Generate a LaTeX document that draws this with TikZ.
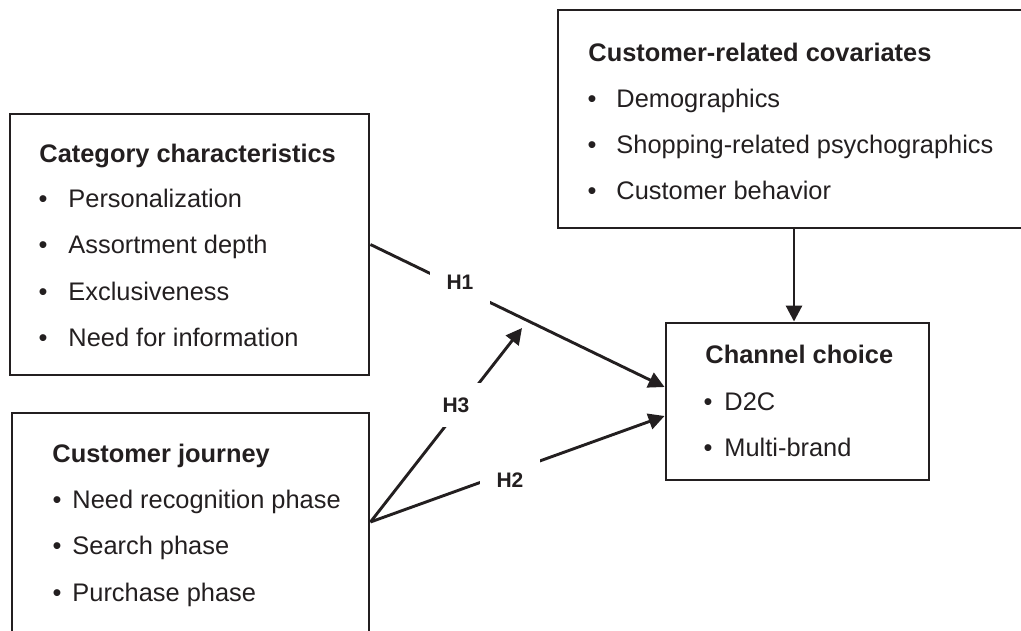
\documentclass[tikz,border=0pt]{standalone}
\usepackage{fontspec}
\setmainfont{Liberation Sans}
\usetikzlibrary{arrows.meta}
\definecolor{ink}{HTML}{231F20}

\begin{document}
\begin{tikzpicture}[x=1pt,y=-1pt,line width=2.9pt,color=ink,
  box/.style={draw,rectangle,inner sep=0pt},
  head/.style={anchor=base west,inner sep=0pt,font=\fontsize{25.4}{30}\selectfont\bfseries},
  item/.style={anchor=base west,inner sep=0pt,font=\fontsize{25.4}{30}\selectfont},
  dot/.style={anchor=base,inner sep=0pt,font=\fontsize{25.4}{30}\selectfont},
  hyp/.style={fill=white,inner sep=0pt,minimum width=60pt,minimum height=44pt,
    text height=15pt,text depth=0pt,font=\fontsize{21}{25}\selectfont\bfseries},
  link/.style={-{Triangle[length=16pt,width=16pt]}}]
\useasboundingbox (0,0) rectangle (1021,630);
% boxes
\node[box,minimum width=359pt,minimum height=261pt] (cat) at (189.5,244.5) {};
\node[box,minimum width=357pt,minimum height=220pt] (jour) at (190.5,523) {};
\node[box,minimum width=472pt,minimum height=218pt] (cov) at (794,119) {};
\node[box,minimum width=263pt,minimum height=157pt] (choice) at (797.5,401.5) {};
% texts
\node[head] (catT) at (38,162) {Category characteristics};
\foreach \t [count=\i] in {Personalization,Assortment depth,Exclusiveness,Need for information}
  {\node[dot] (catd\i) at (43,{160.5+46.5*\i}) {•};
   \node[item] (cati\i) at (67,{160.5+46.5*\i}) {\t};}
\node[head] (jourT) at (51,462) {Customer journey};
\foreach \t [count=\i] in {Need recognition phase,Search phase,Purchase phase}
  {\node[dot] (jourd\i) at (57,{461.5+46.5*\i}) {•};
   \node[item] (jouri\i) at (71,{461.5+46.5*\i}) {\t};}
\node[head] (covT) at (587,61) {Customer-related covariates};
\foreach \t [count=\i] in {Demographics,Shopping-related psychographics,Customer behavior}
  {\node[dot] (covd\i) at (592,{61+46*\i}) {•};
   \node[item] (covi\i) at (615,{61+46*\i}) {\t};}
\node[head] (choiceT) at (704,363) {Channel choice};
\foreach \t [count=\i] in {D2C,Multi-brand}
  {\node[dot] (choiced\i) at (708,{364+46*\i}) {•};
   \node[item] (choicei\i) at (723,{364+46*\i}) {\t};}
% arrows
\coordinate (h3tip) at (522,328);
\draw[link] (cat.east) -- ([yshift=14.5pt]choice.west);
\draw[link] (jour.east|-0,522) -- ([yshift=-14.5pt]choice.west);
\draw[link] (jour.east|-0,522) -- (h3tip);
\draw[link] (cov.south) -- (cov.south |- choice.north);
\node[hyp] (h1) at (460,282) {H1};
\node[hyp] (h2) at (510,480) {H2};
\node[hyp] (h3) at (456,405) {H3};
\end{tikzpicture}
\end{document}
